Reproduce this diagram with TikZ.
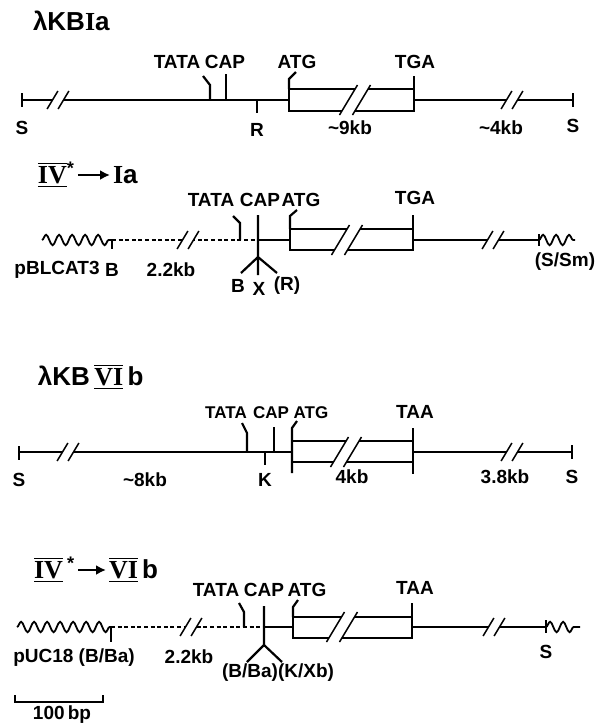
\documentclass[tikz,border=0pt]{standalone}
\usepackage{fontspec}
\setmainfont{Liberation Sans}
\newfontfamily\serifb{Liberation Serif}
\usetikzlibrary{arrows.meta,decorations.pathmorphing}

% barred roman numeral
\newcommand\rn[1]{{\serifb\bfseries$\overline{\underline{\hbox{#1}}}$}}
% two slashes across a line: x, y, half height, gap
\newcommand\brk[4]{%
  \fill[white] ({#1-#4/2-0.6*#3},{#2+#3}) -- ({#1-#4/2+0.6*#3},{#2-#3}) -- ({#1+#4/2+0.6*#3},{#2-#3}) -- ({#1+#4/2-0.6*#3},{#2+#3}) -- cycle;
  \draw[line width=0.75pt] ({#1-#4/2-0.6*#3},{#2+#3}) -- ({#1-#4/2+0.6*#3},{#2-#3}) ({#1+#4/2-0.6*#3},{#2+#3}) -- ({#1+#4/2+0.6*#3},{#2-#3});}

\tikzset{
  lbl/.style={font=\bfseries\fontsize{9.5}{10}\selectfont, inner sep=0pt},
  lblsm/.style={lbl, font=\bfseries\fontsize{8.5}{10}\selectfont},
  ttl/.style={font=\bfseries\fontsize{13}{15}\selectfont, inner sep=0pt, anchor=west},
  wavy/.style={line width=0.9pt, decorate, decoration={snake, segment length=6.5pt, amplitude=2.6pt}},
  dna/.style={line width=1.1pt},
  vec/.style={line width=1pt, dash pattern=on 2pt off 1.3pt},
  ttlarrow/.style={-{Latex[length=5pt,width=5pt]}, line width=1.2pt, shorten <=1pt, shorten >=1pt}
}

\begin{document}
\begin{tikzpicture}[x=0.5pt, y=-0.5pt, line width=1pt]
  \useasboundingbox (0,0) rectangle (609,724);

  % lambda KB Ia
  \node[ttl] (t1) at (32,21) {λKB{\serifb I}a};
  \draw[dna] (22,93) -- (22,107) (22,100) -- (289,100);
  \draw[dna] (289,89) rectangle (414,111);
  \draw[dna] (296,72) -- (289,79) -- (289,89);
  \draw[dna] (414,76) -- (414,89) (414,100) -- (573,100) (573,93) -- (573,107);
  \draw[dna] (203,76) -- (210,85) -- (210,100);
  \draw[dna] (226,74) -- (226,100);
  \draw[dna] (257,100) -- (257,113);
  \brk{58}{100}{9}{11}
  \brk{355}{100}{15}{13}
  \brk{512}{100}{9}{11}
  \node[lbl] (s1a) at (22,128) {S};
  \node[lbl] (r1) at (257,130) {R};
  \node[lbl] (kb1a) at (350,128) {\textasciitilde 9kb};
  \node[lbl] (kb1b) at (501,128) {\textasciitilde 4kb};
  \node[lbl] (s1b) at (573,126) {S};
  \node[lbl] (tata1) at (177,62) {TATA};
  \node[lbl] (cap1) at (225,62) {CAP};
  \node[lbl] (atg1) at (297,62) {ATG};
  \node[lbl] (tga1) at (415,62) {TGA};

  % IV* -> Ia
  \node[ttl] (t2a) at (37,175) {\rn{IV}\textsuperscript{*}};
  \node[ttl] (t2b) at (112,175) {{\serifb I}a};
  \draw[ttlarrow] (t2a.east) -- (t2b.west);
  \draw[wavy] (42,240) -- (112,240);
  \draw[dna] (112,240) -- (112,249);
  \draw[vec] (112,240) -- (258,240);
  \draw[dna] (258,240) -- (290,240);
  \draw[dna] (290,229) rectangle (413,250);
  \draw[dna] (297,210) -- (290,216) -- (290,229);
  \draw[dna] (413,215) -- (413,229) (413,240) -- (539,240) (539,234) -- (539,246);
  \draw[wavy] (539,240) -- (575,240);
  \draw[dna] (233,216) -- (240,223) -- (240,240);
  \draw[dna] (258,215) -- (258,275) (241,273) -- (258,257) -- (277,273);
  \brk{188}{240}{9}{11}
  \brk{347}{240}{15}{13}
  \brk{493}{240}{9}{11}
  \node[lbl] (vec2) at (57,270) {pBLCAT3};
  \node[lbl] (b2a) at (112,270) {B};
  \node[lbl] (kb2) at (171,270) {2.2kb};
  \node[lbl] (b2b) at (238,286) {B};
  \node[lbl] (x2) at (259,289) {X};
  \node[lbl] (r2) at (287,286) {(R)};
  \node[lbl] (tata2) at (211,200) {TATA};
  \node[lbl] (cap2) at (260,200) {CAP};
  \node[lbl] (atg2) at (301,200) {ATG};
  \node[lbl] (tga2) at (415,198) {TGA};
  \node[lbl] (s2) at (565,262) {(S/Sm)};

  % lambda KB VIb
  \node[ttl] (t3) at (37,377) {λKB\,\rn{VI}\,b};
  \draw[dna] (19,446) -- (19,460) (19,452) -- (292,452);
  \draw[dna] (292,441) -- (413,441) (292,462) -- (413,462);
  \draw[dna] (297,421) -- (292,428) -- (292,473);
  \draw[dna] (413,428) -- (413,474) (413,452) -- (572,452) (572,445) -- (572,459);
  \draw[dna] (242,423) -- (247,433) -- (247,452);
  \draw[dna] (274,427) -- (274,452);
  \draw[dna] (265,452) -- (265,465);
  \brk{68}{452}{9}{11}
  \brk{346}{452}{15}{13}
  \brk{512}{452}{9}{11}
  \node[lbl] (s3a) at (19,480) {S};
  \node[lbl] (kb3a) at (145,480) {\textasciitilde 8kb};
  \node[lbl] (k3) at (265,480) {K};
  \node[lbl] (kb3b) at (352,477) {4kb};
  \node[lbl] (kb3c) at (505,477) {3.8kb};
  \node[lbl] (s3b) at (572,477) {S};
  \node[lblsm] (tata3) at (226,413) {TATA};
  \node[lblsm] (cap3) at (271,413) {CAP};
  \node[lblsm] (atg3) at (311,413) {ATG};
  \node[lbl] (taa3) at (415,412) {TAA};

  % IV* -> VIb
  \node[ttl] (t4a) at (33,570) {\rn{IV}\,\textsuperscript{*}};
  \node[ttl] (t4b) at (108,570) {\rn{VI}\,b};
  \draw[ttlarrow] (t4a.east) -- (t4b.west);
  \draw[wavy] (17,627) -- (111,627);
  \draw[dna] (111,627) -- (111,642);
  \draw[vec] (111,627) -- (264,627);
  \draw[dna] (264,627) -- (293,627);
  \draw[dna] (293,617) rectangle (412,638);
  \draw[dna] (298,600) -- (293,607) -- (293,617);
  \draw[dna] (412,603) -- (412,617) (412,627) -- (546,627) (546,620) -- (546,633);
  \draw[wavy] (546,627) -- (580,627);
  \draw[dna] (239,603) -- (244,612) -- (244,627);
  \draw[dna] (264,606) -- (264,645) (247,662) -- (264,645) -- (282,662);
  \brk{191}{627}{9}{11}
  \brk{342}{627}{15}{13}
  \brk{494}{627}{9}{11}
  \node[lbl] (vec4) at (74,658) {pUC18 (B/Ba)};
  \node[lbl] (kb4) at (189,657) {2.2kb};
  \node[lbl] (bba4) at (250,673) {(B/Ba)};
  \node[lbl] (kxb4) at (306,673) {(K/Xb)};
  \node[lbl] (tata4) at (216,590) {TATA};
  \node[lbl] (cap4) at (264,590) {CAP};
  \node[lbl] (atg4) at (307,590) {ATG};
  \node[lbl] (taa4) at (415,588) {TAA};
  \node[lbl] (s4) at (546,652) {S};

  % scale bar
  \draw[line width=1pt] (15,695) -- (15,702) -- (103,702) -- (103,695);
  \node[lbl] (bar) at (62,715) {100\,bp};
\end{tikzpicture}
\end{document}
